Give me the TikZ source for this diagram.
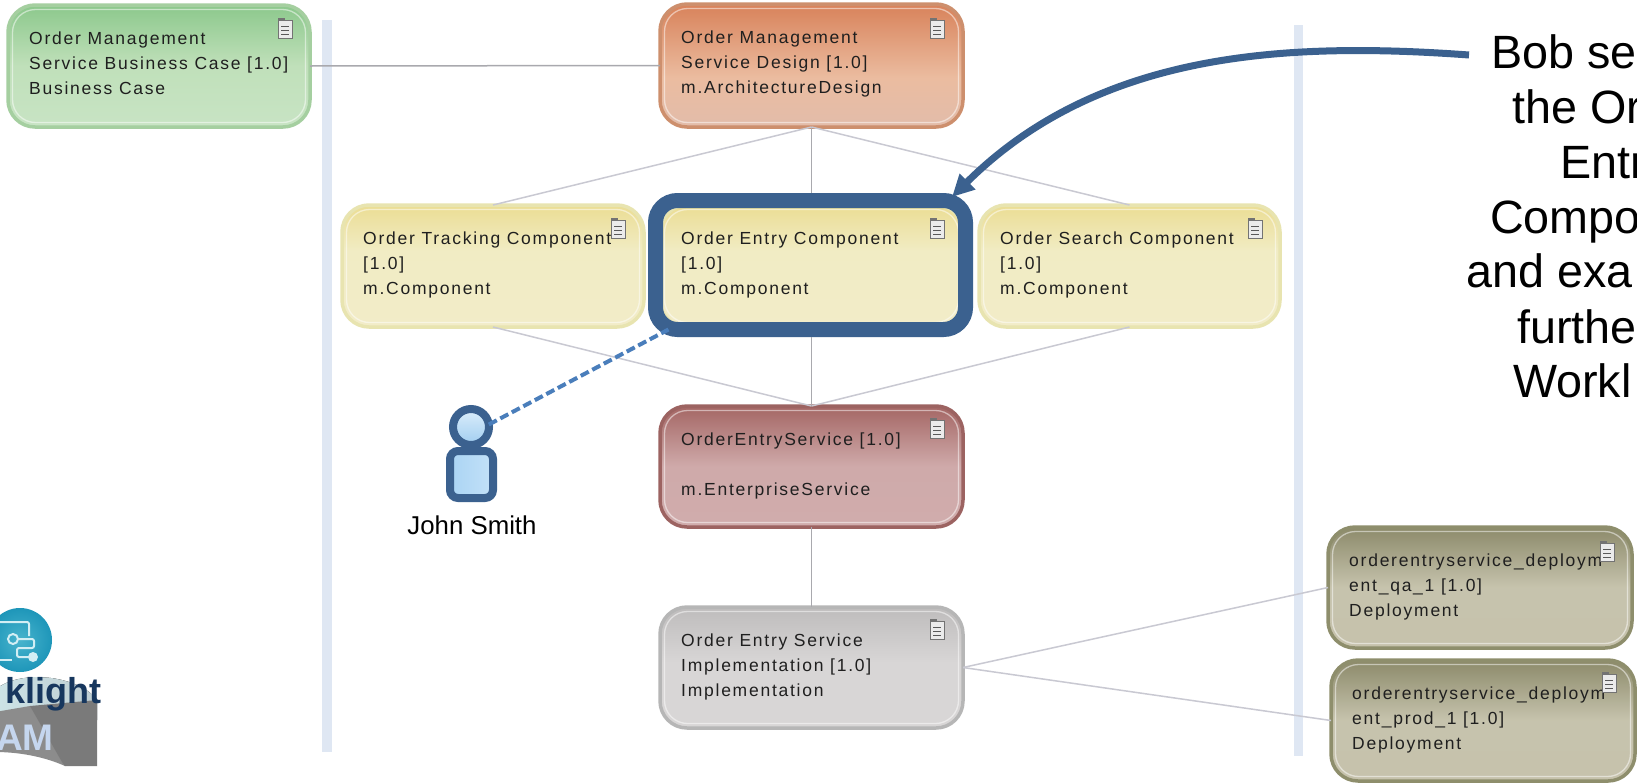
\documentclass[tikz,border=0pt]{standalone}
\usepackage{fontspec}
\setmainfont{Liberation Sans}
\newfontfamily\cardfont[LetterSpace=10]{Liberation Sans}
\usetikzlibrary{calc,arrows.meta}
\definecolor{hlblue}{HTML}{3B618F}
\definecolor{dashblue}{HTML}{4A7EBB}
\definecolor{bandblue}{HTML}{DFE7F3}
\definecolor{linka}{HTML}{A9A9AE}
\definecolor{linkb}{HTML}{C9C9D2}
\definecolor{gb}{HTML}{A5CFA0}\definecolor{gt}{HTML}{8CC88C}\definecolor{gm}{HTML}{C0E0BA}\definecolor{gl}{HTML}{C8E4C4}
\definecolor{ob}{HTML}{CD8F6D}\definecolor{ot}{HTML}{D8825A}\definecolor{om}{HTML}{EBBCA0}\definecolor{ol}{HTML}{E2BCAA}
\definecolor{yb}{HTML}{E8E4B0}\definecolor{yt}{HTML}{EBDD94}\definecolor{ym}{HTML}{F1ECC4}\definecolor{yl}{HTML}{F2ECC8}
\definecolor{rb}{HTML}{9C6361}\definecolor{rt}{HTML}{A46664}\definecolor{rm}{HTML}{CFAAAA}\definecolor{rl}{HTML}{D0ACAC}
\definecolor{sb}{HTML}{B6B6B6}\definecolor{st}{HTML}{BEBCBC}\definecolor{sm}{HTML}{D8D6D6}\definecolor{sl}{HTML}{D8D6D6}
\definecolor{db}{HTML}{8E8E6C}\definecolor{dt}{HTML}{8C8A6A}\definecolor{dm}{HTML}{C6C3AD}\definecolor{dl}{HTML}{C6C2AC}
\definecolor{headlo}{HTML}{A0CDF0}\definecolor{headhi}{HTML}{DCEEFB}
\definecolor{bodylo}{HTML}{AAD4F4}\definecolor{bodyhi}{HTML}{C3E1F8}
\definecolor{logopale}{HTML}{CDE4E6}\definecolor{logopaleb}{HTML}{BECDD2}
\definecolor{logogrey}{HTML}{7A7A7A}\definecolor{logogreyb}{HTML}{8C8C8C}
\definecolor{logoin}{HTML}{48B4CD}\definecolor{logoout}{HTML}{1E96B9}
\definecolor{logoline}{HTML}{D2EEF4}
\definecolor{logoa}{HTML}{17375E}\definecolor{logob}{HTML}{C5D6EE}
\pgfdeclareverticalshading{shG}{100bp}{color(0bp)=(gl); color(25bp)=(gl); color(50bp)=(gm); color(75bp)=(gt); color(100bp)=(gt)}
\pgfdeclareverticalshading{shO}{100bp}{color(0bp)=(ol); color(25bp)=(ol); color(45bp)=(om); color(75bp)=(ot); color(100bp)=(ot)}
\pgfdeclareverticalshading{shY}{100bp}{color(0bp)=(yl); color(25bp)=(yl); color(56bp)=(ym); color(75bp)=(yt); color(100bp)=(yt)}
\pgfdeclareverticalshading{shR}{100bp}{color(0bp)=(rl); color(25bp)=(rl); color(50bp)=(rm); color(75bp)=(rt); color(100bp)=(rt)}
\pgfdeclareverticalshading{shS}{100bp}{color(0bp)=(sl); color(25bp)=(sl); color(52bp)=(sm); color(75bp)=(st); color(100bp)=(st)}
\pgfdeclareverticalshading{shD}{100bp}{color(0bp)=(dl); color(25bp)=(dl); color(50bp)=(dm); color(75bp)=(dt); color(100bp)=(dt)}
\tikzset{
  cardbase/.style={rectangle, rounded corners=27pt, line width=3.5pt, outer sep=0pt, inner sep=0pt},
  cgreen/.style={cardbase, draw=gb, shade, shading=shG},
  corange/.style={cardbase, draw=ob, shade, shading=shO},
  cyellow/.style={cardbase, draw=yb, shade, shading=shY},
  cred/.style={cardbase, draw=rb, shade, shading=shR},
  cgrey/.style={cardbase, draw=sb, shade, shading=shS},
  cdeploy/.style={cardbase, draw=db, shade, shading=shD},
  cardtext/.style={anchor=north west, inner sep=0pt, align=left, text=black!88, font=\cardfont\fontsize{17.5}{25}\selectfont},
  linkmain/.style={draw=linka, line width=1.5pt},
  linkside/.style={draw=linkb, line width=1.5pt},
  band/.style={fill=bandblue, draw=none},
  docicon/.pic={
    \draw[draw=black!55, fill=white!92!black, line width=1pt] (-7,-9) rectangle (7,9);
    \draw[black!55, line width=1.2pt] (-7,-10) -- (0,-10);
    \foreach \yy in {-3,1,5} \draw[black!65, line width=1pt] (-4,\yy) -- (4,\yy);
  }
}
\newcommand{\cardbox}[7]{%
  \node[#6, minimum width={(#4-#2)*1pt}, minimum height={(#5-#3)*1pt}] (#1) at ({(#2+#4)/2},{(#3+#5)/2}) {};
  \draw[white, opacity=0.5, line width=1.3pt, rounded corners=23pt] ($(#1.north west)+(4.5,4.5)$) rectangle ($(#1.south east)+(-4.5,-4.5)$);
  \node[cardtext] (#1-t) at ($(#1.north west)+(21,26.5)$) {#7};
}
\begin{document}
\begin{tikzpicture}[x=1pt,y=-1pt]
\fill[white] (0,0) rectangle (1637,782);
\useasboundingbox (0,0) rectangle (1637,782);
% bands
\fill[band] (322,20) rectangle (332,752);
\fill[band] (1294,25) rectangle (1303,756);
% cards
\cardbox{green}{8}{5}{310}{127}{cgreen}{Order Management\\Service Business Case [1.0]\\Business Case}
\cardbox{orange}{660}{4}{963}{127}{corange}{Order Management\\Service Design [1.0]\\m.ArchitectureDesign}
\cardbox{track}{342}{205}{644}{327}{cyellow}{Order Tracking Component\\{}[1.0]\\m.Component}
\cardbox{entry}{660}{205}{963}{327}{cyellow}{Order Entry Component\\{}[1.0]\\m.Component}
\cardbox{search}{979}{205}{1280}{327}{cyellow}{Order Search Component\\{}[1.0]\\m.Component}
\cardbox{service}{660}{406}{963}{527}{cred}{OrderEntryService [1.0]\\[25pt]m.EnterpriseService}
\cardbox{impl}{660}{607}{963}{728}{cgrey}{Order Entry Service\\Implementation [1.0]\\Implementation}
\cardbox{qa}{1328}{527}{1632}{648}{cdeploy}{orderentryservice\_deploym\\ent\_qa\_1 [1.0]\\Deployment}
\cardbox{prod}{1331}{660}{1635}{781}{cdeploy}{orderentryservice\_deploym\\ent\_prod\_1 [1.0]\\Deployment}
% document icons
\pic at (285,29) {docicon};
\pic at (937,29) {docicon};
\pic at (618,229) {docicon};
\pic at (937,229) {docicon};
\pic at (1255,229) {docicon};
\pic at (937,429) {docicon};
\pic at (937,630) {docicon};
\pic at (1607,552) {docicon};
\pic at (1609,683) {docicon};
% highlight
\node[draw=hlblue, line width=15pt, rectangle, rounded corners=22pt, outer sep=0pt, minimum width=310pt, minimum height=129pt] (entryhl) at (810.5,265) {};
% connectors
\draw[linkmain] (green.east) -- (orange.west);
\draw[linkmain] (orange.south) -- ($(orange.south |- entryhl.north)+(0,-7.5)$);
\draw[linkside] (orange.south) -- (track.north);
\draw[linkside] (orange.south) -- (search.north);
\draw[linkside] (track.south) -- (service.north);
\draw[linkside] (search.south) -- (service.north);
\draw[linkmain] ($(service.north |- entryhl.south)+(0,7.5)$) -- (service.north);
\draw[linkmain] (service.south) -- (impl.north);
\draw[linkside] (impl.east) -- (qa.west);
\draw[linkside] (impl.east) -- (prod.west);
% person
\node[rectangle, rounded corners=8pt, draw=hlblue, line width=8pt, minimum width=43pt, minimum height=47pt, inner sep=0pt, outer sep=0pt, left color=bodylo, right color=bodyhi] (body) at (471.5,474.5) {};
\node[circle, draw=hlblue, line width=8pt, minimum size=36pt, inner sep=0pt, outer sep=0pt, top color=headhi, bottom color=headlo] (head) at (471,427) {};
\node[font=\fontsize{25.8}{30}\selectfont, text=black, inner sep=0pt] (john) at (472,525) {John Smith};
\coordinate (dashend) at ($(entryhl.south west)+(13,0)$);
\draw[draw=dashblue, line width=4pt, dash pattern=on 9pt off 4pt] (head.8) -- (dashend);
% callout
\tikzset{calltext/.style={anchor=base west, inner sep=0pt, text=black, font=\fontsize{46.7}{54}\selectfont}}
\node[calltext] (c1) at (1491,68) {Bob se};
\node[calltext] (c2) at (1512,123) {the Or};
\node[calltext] (c3) at (1560,178) {Entr};
\node[calltext] (c4) at (1490,233) {Compo};
\node[calltext] (c5) at (1466,287) {and exa};
\node[calltext] (c6) at (1517,343) {furthe};
\node[calltext] (c7) at (1513,397) {Workl};
\coordinate (arrowstart) at (1469,55);
\coordinate (arrowtip) at ($(entryhl.north)+(141.5,-3.5)$);
\draw[draw=hlblue, line width=7pt, -{Triangle[length=22pt,width=21pt]}] (arrowstart) .. controls (1290,42) and (1100,50) .. (arrowtip);
% logo
\fill[left color=logopale, right color=logopaleb] (-5,690) .. controls (20,668) and (80,676) .. (97,700) -- (97,720) -- (-5,720) -- cycle;
\fill[logogreyb] (-5,712) -- (30,706) -- (65,706) -- (65,766) .. controls (45,757) and (20,752) .. (-5,752) -- cycle;
\fill[logogrey] (30,706) -- (97,700) -- (97,766) -- (65,766) -- (62,762) -- cycle;
\shade[inner color=logoin, outer color=logoout] (20,640) circle (32);
\draw[logoline, line width=2pt, rounded corners=2pt] (0,622) -- (29,622) -- (29,636);
\draw[logoline, line width=2pt] (0,660) -- (12,660);
\draw[logoline, line width=2pt] (13,639) circle (5);
\draw[logoline, line width=2pt, rounded corners=2pt] (18,639) -- (34,639) -- (34,648) -- (17,648) -- (17,657) -- (30,657);
\fill[logoline] (33,657) circle (5);
\node[anchor=base east, inner sep=0pt, font=\bfseries\fontsize{36}{40}\selectfont, text=logoa] (logotexta) at (102,703) {klight};
\node[anchor=base east, inner sep=0pt, font=\bfseries\fontsize{37}{40}\selectfont, text=logob] (logotextb) at (54,750) {AM};
\end{tikzpicture}
\end{document}
